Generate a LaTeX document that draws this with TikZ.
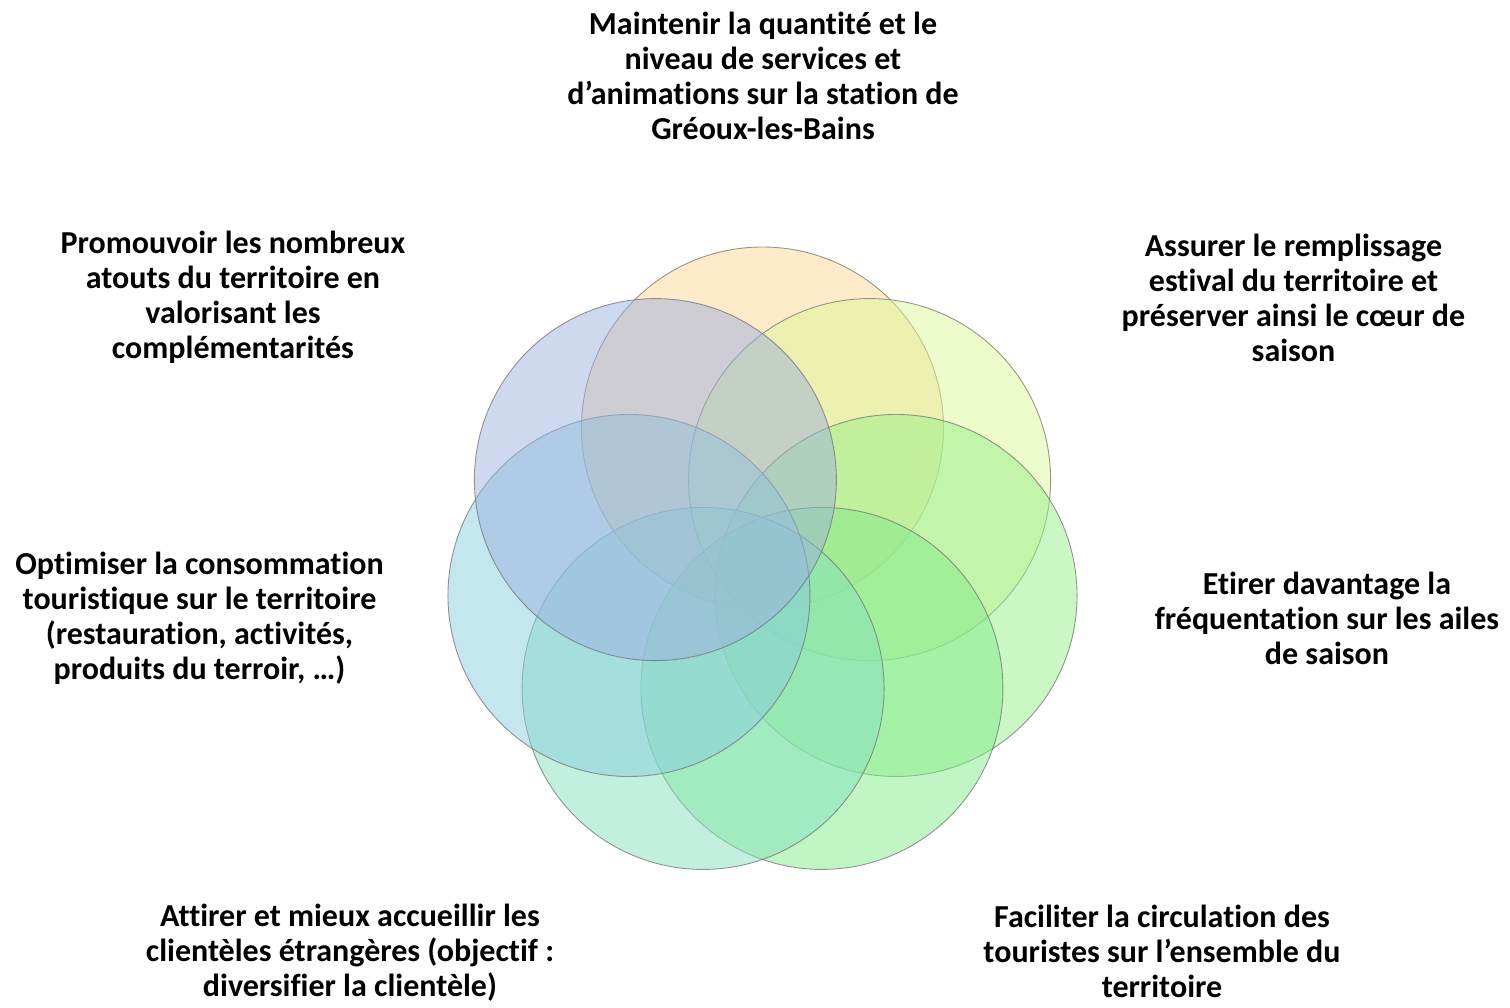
\documentclass[tikz,border=0pt]{standalone}
\usepackage{fontspec}
\setmainfont{Carlito}[Ligatures=NoCommon]
\usepackage{tikz}

\definecolor{cTop}{RGB}{251,215,147}
\definecolor{cUR}{RGB}{221,247,151}
\definecolor{cR}{RGB}{151,239,137}
\definecolor{cLR}{RGB}{129,235,137}
\definecolor{cLL}{RGB}{133,225,191}
\definecolor{cL}{RGB}{137,205,221}
\definecolor{cUL}{RGB}{157,177,221}

\tikzset{
  bubble/.style={circle, minimum size=362pt, inner sep=0pt,
    draw=black!55, line width=0.9pt, draw opacity=0.75, fill opacity=0.5},
  goal/.style={align=center, inner sep=0pt,
    font=\bfseries\fontsize{32}{35}\selectfont}
}

\begin{document}
\begin{tikzpicture}[x=1pt,y=1pt]
            \useasboundingbox (0,0) rectangle (1510,-1008);
            \coordinate (ring) at (762.5,-565);

            \node[bubble, fill=cTop] (maintenir) at ([shift={(90:137pt)}]ring) {};
            \node[bubble, fill=cUR] (assurer) at ([shift={(38.57:137pt)}]ring) {};
            \node[bubble, fill=cR] (etirer) at ([shift={(-12.86:137pt)}]ring) {};
            \node[bubble, fill=cLR] (faciliter) at ([shift={(-64.29:137pt)}]ring) {};
            \node[bubble, fill=cLL] (attirer) at ([shift={(-115.71:137pt)}]ring) {};
            \node[bubble, fill=cL] (optimiser) at ([shift={(-167.14:137pt)}]ring) {};
            \node[bubble, fill=cUL] (promouvoir) at ([shift={(141.43:137pt)}]ring) {};

            \node[goal] (tMaintenir) at (763,-75.5) {Maintenir la quantité et le \\ niveau de services et \\ d’animations sur la station de \\ Gréoux-les-Bains};
            \node[goal] (tAssurer) at (1293.5,-297.5) {Assurer le remplissage \\ estival du territoire et \\ préserver ainsi le cœur de \\ saison};
            \node[goal] (tEtirer) at (1327,-618.5) {Etirer davantage la \\ fréquentation sur les ailes \\ de saison};
            \node[goal] (tFaciliter) at (1162,-951.5) {Faciliter la circulation des \\ touristes sur l’ensemble du \\ territoire};
            \node[goal] (tAttirer) at (350,-953) {Attirer et mieux accueillir les \\ clientèles étrangères (objectif : \\ diversifier la clientèle)};
            \node[goal] (tOptimiser) at (199.5,-618.5) {Optimiser la consommation \\ touristique sur le territoire \\ (restauration, activités, \\ produits du terroir, …)};
            \node[goal] (tPromouvoir) at (233,-297.5) {Promouvoir les nombreux \\ atouts du territoire en \\ valorisant les \\ complémentarités};

        \end{tikzpicture}
\end{document}
